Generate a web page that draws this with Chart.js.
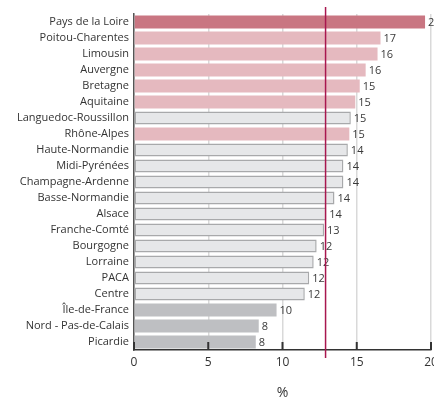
<!DOCTYPE html>
<html><head><meta charset="utf-8">
<script src="https://cdn.jsdelivr.net/npm/chart.js@4/dist/chart.umd.min.js"></script>
<style>html,body{margin:0;padding:0;overflow:hidden;background:#fff;width:434px;height:401px}canvas{display:block}</style>
</head><body><canvas id="c" width="451" height="401"></canvas>
<script>
const regions = ["Pays de la Loire","Poitou-Charentes","Limousin","Auvergne","Bretagne","Aquitaine","Languedoc-Roussillon","Rhône-Alpes","Haute-Normandie","Midi-Pyrénées","Champagne-Ardenne","Basse-Normandie","Alsace","Franche-Comté","Bourgogne","Lorraine","PACA","Centre","Île-de-France","Nord - Pas-de-Calais","Picardie"];
const rates = [19.6,16.6,16.4,15.6,15.2,14.9,14.6,14.5,14.4,14.1,14.1,13.5,12.95,12.8,12.3,12.1,11.8,11.5,9.6,8.4,8.2];
const rateLabels = ["20","17","16","16","15","15","15","15","14","14","14","14","14","13","12","12","12","12","10","8","8"];
const groups = ["top","above","above","above","above","above","mid","above","mid","mid","mid","mid","mid","mid","mid","mid","mid","mid","low","low","low"];
const xTickValues = [0,5,10,15,20];
const referenceValue = 12.9;
const axisTitle = "%";

const FONT = '"Open Sans", sans-serif';
const groupFill = {top:'#c97682', above:'#e5b9bf', mid:'#e6e7e9', low:'#bebfc2'};
const groupBorder = {top:'#c97682', above:'#e5b9bf', mid:'#a8a9ab', low:'#bebfc2'};

const overlay = {
  id:'overlay',
  afterDatasetsDraw(chart){
    const {ctx, chartArea, scales:{x}} = chart;
    const meta = chart.getDatasetMeta(0);
    ctx.save();
    // inward ticks on x axis
    ctx.strokeStyle = '#333'; ctx.lineWidth = 2;
    xTickValues.forEach(v=>{
      const px = x.getPixelForValue(v);
      ctx.beginPath(); ctx.moveTo(px, chartArea.bottom-8); ctx.lineTo(px, chartArea.bottom); ctx.stroke();
    });
    // value labels
    ctx.font = '11px ' + FONT; ctx.fillStyle = '#3a3a3a';
    ctx.textAlign = 'left'; ctx.textBaseline = 'middle';
    meta.data.forEach((bar,i)=>{ ctx.fillText(rateLabels[i], bar.x + 3, bar.y + 1); });
    // reference line
    const rx = x.getPixelForValue(referenceValue);
    ctx.strokeStyle = '#a8174f'; ctx.lineWidth = 1.5;
    ctx.beginPath(); ctx.moveTo(rx, chartArea.top - 7); ctx.lineTo(rx, chartArea.bottom + 8); ctx.stroke();
    ctx.restore();
  }
};

new Chart(document.getElementById('c'), {
  type:'bar',
  data:{
    labels: regions,
    datasets:[{
      data: rates,
      backgroundColor: c => groupFill[groups[c.dataIndex]],
      borderColor: c => groupBorder[groups[c.dataIndex]],
      borderWidth: c => groups[c.dataIndex]==='mid' ? 1.5 : 0,
      borderSkipped: false,
      barPercentage: 0.8,
      categoryPercentage: 1.0
    }]
  },
  options:{
    indexAxis:'y',
    responsive:false,
    animation:false,
    devicePixelRatio:1,
    layout:{padding:{top:14,right:20,left:0,bottom:0}},
    plugins:{legend:{display:false}, tooltip:{enabled:false}},
    scales:{
      x:{
        min:0, max:20,
        afterBuildTicks: s => { s.ticks = xTickValues.map(v=>({value:v})); },
        afterFit: s => { s.height = 51; },
        ticks:{font:{family:FONT,size:12}, color:'#333', padding:5},
        grid:{color:'#d9d9d9', lineWidth:1.5, drawTicks:false},
        border:{color:'#333', width:1.5},
        title:{display:true, text:axisTitle, font:{family:FONT,size:14}, color:'#333', padding:{top:0,bottom:0}}
      },
      y:{
        afterFit: s => { s.width = 134; },
        ticks:{font:{family:FONT,size:11}, color:'#333', padding:5, autoSkip:false},
        grid:{display:false, drawTicks:false},
        border:{color:'#555', width:1.5}
      }
    }
  },
  plugins:[overlay]
});
</script></body></html>
